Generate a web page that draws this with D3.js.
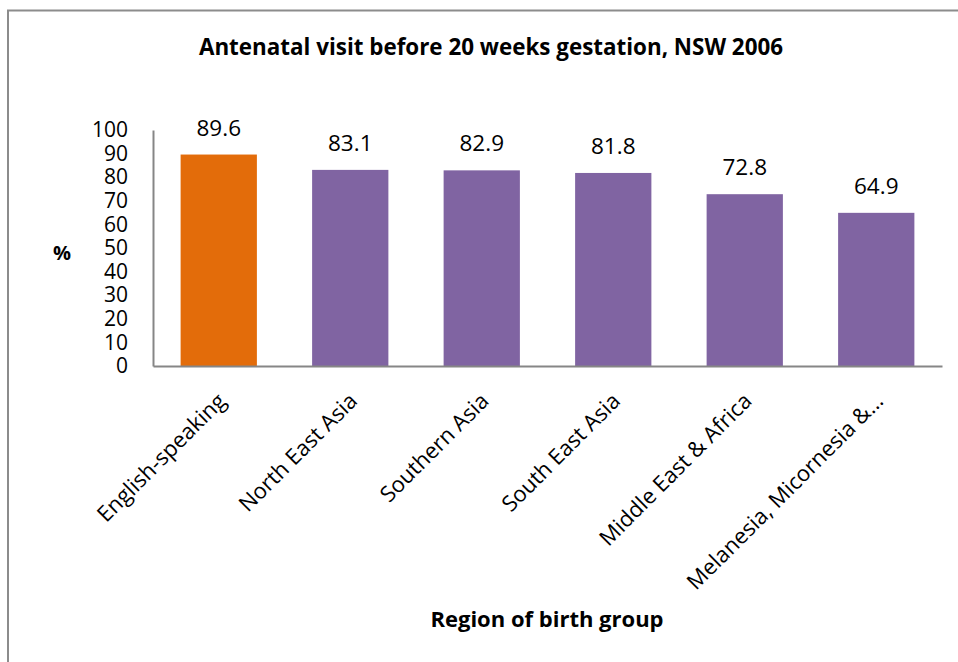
<!DOCTYPE html>
<html>
<head>
<meta charset="utf-8">
<script src="https://cdn.jsdelivr.net/npm/d3@7"></script>
<style>
  html, body { margin: 0; padding: 0; background: #fff; }
  svg { display: block; }
  text { font-family: "Open Sans", Lato, sans-serif; fill: #000; }
</style>
</head>
<body>
<svg id="chart" width="958" height="662"></svg>
<script>
const categories = ["English-speaking", "North East Asia", "Southern Asia", "South East Asia", "Middle East & Africa", "Melanesia, Micornesia &..."];
const values = [89.6, 83.1, 82.9, 81.8, 72.8, 64.9];
const barColors = ["#E36C0A", "#8064A2", "#8064A2", "#8064A2", "#8064A2", "#8064A2"];
const yTicks = [0, 10, 20, 30, 40, 50, 60, 70, 80, 90, 100];
const titleText = "Antenatal visit before 20 weeks gestation, NSW 2006";
const xTitle = "Region of birth group";
const yTitle = "%";

const svg = d3.select("#chart");
const plot = { left: 153, right: 942, top: 130, bottom: 366 };
const FONT = "'Open Sans', Lato, sans-serif";

// outer chart border (extends beyond right and bottom edges)
svg.append("rect")
  .attr("x", 8).attr("y", 10.5)
  .attr("width", 1000).attr("height", 700)
  .attr("fill", "none").attr("stroke", "#8c8c8c").attr("stroke-width", 2);

const x = d3.scaleBand().domain(categories).range([plot.left, plot.right])
  .paddingInner(0.42).paddingOuter(0.21);
const y = d3.scaleLinear().domain([0, 100]).range([plot.bottom, plot.top]);

// bars
svg.append("g").selectAll("rect").data(values).join("rect")
  .attr("x", (d, i) => x(categories[i]))
  .attr("y", d => y(d))
  .attr("width", x.bandwidth())
  .attr("height", d => y(0) - y(d))
  .attr("fill", (d, i) => barColors[i]);

// y axis
const yAxis = svg.append("g").attr("transform", `translate(${plot.left},0)`)
  .call(d3.axisLeft(y).tickValues(yTicks).tickSize(0).tickPadding(25).tickFormat(d3.format("d")));
yAxis.select(".domain").attr("stroke", "#868686").attr("stroke-width", 2);
yAxis.selectAll("text").style("font-family", FONT).style("font-size", "21px").attr("fill", "#000");

// x axis
const xAxis = svg.append("g").attr("transform", `translate(0,${plot.bottom})`)
  .call(d3.axisBottom(x).tickSize(0).tickFormat(""));
xAxis.select(".domain").attr("stroke", "#868686").attr("stroke-width", 2);

// category labels
svg.append("g").selectAll("text").data(categories).join("text")
  .attr("transform", d => `translate(${x(d) + x.bandwidth() / 2 + 3},${plot.bottom + 31}) rotate(-45)`)
  .attr("text-anchor", "end")
  .attr("dy", "0.35em")
  .style("font-size", "22px")
  .text(d => d);

// value labels
svg.append("g").selectAll("text").data(values).join("text")
  .attr("x", (d, i) => x(categories[i]) + x.bandwidth() / 2)
  .attr("y", d => y(d) - 19)
  .attr("text-anchor", "middle")
  .style("font-size", "22.5px")
  .text(d => d3.format(".1f")(d));

// titles
svg.append("text").attr("x", 491).attr("y", 55).attr("text-anchor", "middle")
  .style("font-size", "22.4px").style("font-weight", "bold").text(titleText);
svg.append("text").attr("x", 547).attr("y", 627).attr("text-anchor", "middle")
  .style("font-size", "22px").style("font-weight", "bold").text(xTitle);
svg.append("text").attr("x", 62).attr("y", 260).attr("text-anchor", "middle")
  .style("font-size", "20px").style("font-weight", "bold").text(yTitle);
</script>
</body>
</html>
